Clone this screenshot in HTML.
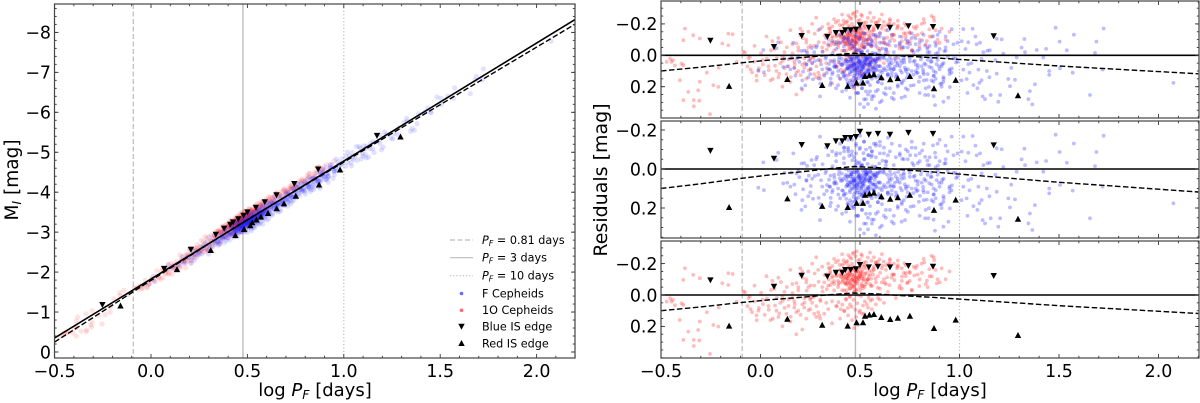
<!DOCTYPE html>
<html>
<head>
<meta charset="utf-8">
<style>
html,body{margin:0;padding:0;background:#fff;}
svg{display:block;}
text{font-family:"DejaVu Sans","Liberation Sans",sans-serif;fill:#000;}
</style>
</head>
<body>
<svg id="fig" xmlns="http://www.w3.org/2000/svg" width="1200" height="403" viewBox="0 0 1200 403">
  <defs>
    <clipPath id="clip-left"><rect x="54.5" y="4" width="520.5" height="354"/></clipPath>
    <clipPath id="clip-r0"><rect x="661" y="1" width="538" height="117"/></clipPath>
    <clipPath id="clip-r1"><rect x="661" y="121" width="538" height="117"/></clipPath>
    <clipPath id="clip-r2"><rect x="661" y="241" width="538" height="117"/></clipPath>
  </defs>
  <g id="layer"></g>

  <text transform="translate(18,180) rotate(-90)" text-anchor="middle" font-size="18.5">M<tspan dy="3" font-size="12.5" font-style="italic">I</tspan><tspan dy="-3"> [mag]</tspan></text>
  <text x="315" y="396" text-anchor="middle" font-size="18">log <tspan font-style="italic">P</tspan><tspan dy="3" font-size="12.5" font-style="italic">F</tspan><tspan dy="-3"> [days]</tspan></text>
  <text transform="translate(607,180) rotate(-90)" text-anchor="middle" font-size="19">Residuals [mag]</text>
  <text x="930" y="396" text-anchor="middle" font-size="18">log <tspan font-style="italic">P</tspan><tspan dy="3" font-size="12.5" font-style="italic">F</tspan><tspan dy="-3"> [days]</tspan></text>

  <g font-size="11.2">
    <line x1="450" x2="473" y1="240" y2="240" stroke="#bbb" stroke-width="1.2" stroke-dasharray="5,2.5"/>
    <text x="482" y="244"><tspan font-style="italic">P</tspan><tspan dy="2" font-size="8" font-style="italic">F</tspan><tspan dy="-2"> = 0.81 days</tspan></text>
    <line x1="450" x2="473" y1="257.7" y2="257.7" stroke="#bbb" stroke-width="1.2"/>
    <text x="482" y="261.7"><tspan font-style="italic">P</tspan><tspan dy="2" font-size="8" font-style="italic">F</tspan><tspan dy="-2"> = 3 days</tspan></text>
    <line x1="450" x2="473" y1="275.7" y2="275.7" stroke="#bbb" stroke-width="1.2" stroke-dasharray="1.2,2"/>
    <text x="482" y="279.7"><tspan font-style="italic">P</tspan><tspan dy="2" font-size="8" font-style="italic">F</tspan><tspan dy="-2"> = 10 days</tspan></text>
    <circle cx="461.5" cy="293.5" r="1.8" fill="#6a6aff"/>
    <text x="482" y="297.5">F Cepheids</text>
    <circle cx="461.5" cy="310.3" r="1.8" fill="#ff6a6a"/>
    <text x="482" y="314.2">1O Cepheids</text>
    <polygon points="458.3,323.8 464.7,323.8 461.5,329.8" fill="#000"/>
    <text x="482" y="330.7">Blue IS edge</text>
    <polygon points="458.3,346 464.7,346 461.5,340" fill="#000"/>
    <text x="482" y="347.3">Red IS edge</text>
  </g>
</svg>

<script>
// ---- chart data ----
const solidFitLogP = [-0.5, 2.2];
const solidFitMag = [-0.35, -8.325];
const curveLogP = [-0.5, -0.3, -0.09, 0.05, 0.2, 0.35, 0.47, 0.6, 0.7, 0.85, 1.0, 1.25, 1.5, 1.85, 2.2];
const curveRes = [0.1, 0.076, 0.047, 0.03, 0.015, -0.002, -0.013, -0.006, 0.003, 0.014, 0.026, 0.047, 0.068, 0.093, 0.118];

const blueLogP = [-0.252, 0.068, 0.207, 0.336, 0.379, 0.411, 0.426, 0.453, 0.48, 0.5, 0.544, 0.59, 0.651, 0.743, 0.867, 1.172];
const blueRes = [-0.093, -0.053, -0.123, -0.117, -0.142, -0.142, -0.159, -0.159, -0.164, -0.191, -0.176, -0.18, -0.176, -0.185, -0.18, -0.121];
const redLogP = [-0.158, 0.135, 0.31, 0.438, 0.483, 0.515, 0.525, 0.547, 0.57, 0.607, 0.652, 0.69, 0.751, 0.872, 0.981, 1.294];
const redRes = [0.195, 0.151, 0.189, 0.195, 0.174, 0.174, 0.132, 0.125, 0.121, 0.14, 0.153, 0.145, 0.132, 0.21, 0.157, 0.255];

const fLogP = [
1.483,1.724,1.575,1.688,1.503,1.326,1.212,1.187,1.066,1.019,0.961,1.103,1.086,1.011,1.044,1.153,1.14,1.388,1.435,1.329,
1.312,1.539,1.681,1.421,1.287,1.111,2.075,1.656,1.719,1.569,1.505,1.451,1.451,1.379,1.346,1.366,1.354,1.254,1.279,1.245,
1.204,1.195,1.157,1.128,1.116,1.1,1.111,1.095,1.137,1.187,1.044,1.019,1.036,0.952,0.944,0.919,0.877,0.843,0.827,0.726,
0.709,0.919,0.869,0.818,0.885,0.014,-0.011,0.017,0.089,0.081,0.165,0.206,0.299,0.231,0.181,0.114,0.257,0.299,0.12,0.15,
0.50,0.52,0.48,0.55,0.46,0.53,0.49,0.57,0.44,0.51,0.54,0.47,0.59,0.43,0.56,0.50,0.52,0.48,0.60,0.45,
0.41,0.62,0.39,0.64,0.37,0.66,0.35,0.68,0.33,0.70,0.42,0.58,0.44,0.61,0.46,0.63,0.40,0.65,0.38,0.67,
0.49,0.51,0.47,0.53,0.50,0.48,0.52,0.46,0.54,0.45,0.55,0.49,0.51,0.47,0.53,0.43,0.57,0.42,0.58,0.50,
0.72,0.74,0.76,0.78,0.80,0.82,0.84,0.86,0.88,0.90,0.92,0.94,0.96,0.98,0.71,0.73,0.75,0.77,0.79,0.81,
0.83,0.85,0.87,0.89,0.91,0.93,0.95,0.97,0.99,0.70,0.72,0.74,0.76,0.78,0.80,0.82,0.84,0.86,0.88,0.90,
0.31,0.29,0.27,0.25,0.23,0.21,0.19,0.17,0.34,0.32,0.30,0.28,0.26,0.24,0.22,0.36,0.38,0.35,0.33,0.37,
0.55,0.57,0.59,0.61,0.63,0.65,0.67,0.69,0.56,0.58,0.60,0.62,0.64,0.66,0.68,0.71,0.54,0.52,0.50,0.48,
0.49,0.51,0.53,0.47,0.45,0.55,0.43,0.57,0.41,0.59,0.50,0.52,0.48,0.46,0.54,0.56,0.44,0.58,0.42,0.60,
0.50,0.52,0.54,0.48,0.46,0.56,0.58,0.44,0.51,0.49,0.53,0.47,0.55,0.45,0.57,0.50,0.52,0.48,0.54,0.46,
0.62,0.64,0.66,0.68,0.60,0.58,0.70,0.72,0.74,0.63,0.65,0.67,0.61,0.59,0.69,0.73,0.75,0.77,0.79,0.71,
1.03,1.06,1.08,1.12,1.15,1.18,1.22,1.26,1.05,1.09,0.97,0.99,1.01,1.04,1.07,0.93,0.95,0.91,0.89,0.87,
0.40,0.42,0.44,0.46,0.48,0.50,0.52,0.54,0.56,0.58,0.60,0.36,0.38,0.62,0.64,0.47,0.49,0.51,0.53,0.55,
0.512,0.487,0.531,0.468,0.549,0.503,0.476,0.521,0.458,0.538,0.495,0.566,0.449,0.514,0.483,0.542,0.471,0.527,0.506,0.462,
0.574,0.437,0.588,0.426,0.602,0.415,0.617,0.404,0.631,0.393,0.646,0.382,0.659,0.371,0.674,0.363,0.688,0.352,0.703,0.344,
0.497,0.523,0.478,0.544,0.461,0.562,0.446,0.581,0.431,0.597,0.418,0.613,0.509,0.491,0.535,0.473,0.553,0.456,0.571,0.441,
0.722,0.741,0.763,0.784,0.806,0.827,0.848,0.871,0.892,0.913,0.734,0.752,0.775,0.796,0.817,0.838,0.859,0.881,0.903,0.924,
0.744,0.768,0.791,0.812,0.835,0.856,0.877,0.897,0.919,0.941,0.962,0.983,0.712,0.731,0.755,0.779,0.801,0.823,0.846,0.867,
0.292,0.312,0.333,0.354,0.273,0.253,0.234,0.214,0.195,0.176,0.155,0.134,0.304,0.326,0.346,0.284,0.264,0.243,0.225,0.206,
0.519,0.542,0.493,0.471,0.511,0.533,0.484,0.502,0.462,0.552,0.451,0.561,0.443,0.573,0.432,0.584,0.524,0.491,0.513,0.504,
0.528,0.546,0.565,0.583,0.601,0.621,0.639,0.656,0.675,0.692,0.509,0.487,0.468,0.449,0.428,0.409,0.391,0.372,0.353,0.334,
0.538,0.557,0.576,0.594,0.613,0.632,0.651,0.669,0.687,0.706,0.725,0.517,0.498,0.479,0.458,0.438,0.419,0.399,0.381,0.362,
0.51,0.53,0.55,0.57,0.59,0.61,0.49,0.47,0.45,0.43,0.63,0.65,0.67,0.41,0.39,0.52,0.54,0.56,0.58,0.60,
0.56,0.58,0.60,0.62,0.64,0.66,0.52,0.50,0.48,0.46,0.44,0.42,0.40,0.68,0.70,0.72,0.74,0.76,0.78,0.80,
0.77,0.79,0.81,0.83,0.85,0.87,0.89,0.91,0.93,0.95,0.75,0.73,0.71,0.69,0.82,0.84,0.86,0.88,0.90,0.92,
0.505,0.525,0.485,0.465,0.545,0.445,0.565,0.515,0.495,0.475,0.535,0.455,0.555,0.435,0.575,0.508,0.488,0.528,0.468,0.548,
0.516,0.536,0.496,0.476,0.556,0.456,0.576,0.436,0.596,0.416,0.616,0.396,0.636,0.376,0.656,0.506,0.486,0.526,0.466,0.546
];
const fRes = [
-0.176,-0.171,-0.131,-0.087,-0.087,-0.104,-0.101,-0.106,-0.169,-0.166,-0.166,-0.08,-0.07,-0.089,-0.083,-0.032,-0.029,-0.034,-0.041,-0.02,
-0.049,-0.032,-0.015,0.014,0.014,0.023,0.176,0.253,0.091,0.111,0.082,0.1,0.125,0.185,0.279,0.313,0.228,0.197,0.156,0.151,
0.253,0.296,0.253,0.279,0.262,0.176,0.159,0.091,0.1,0.117,0.057,0.091,0.151,0.202,0.27,0.296,0.317,0.253,0.253,0.262,
0.27,0.168,0.168,0.108,0.057,-0.034,0.096,0.108,-0.083,-0.046,-0.08,0.21,0.262,0.057,0.023,0.074,-0.046,-0.166,0.02,0.09,
0.05,0.08,0.02,0.06,0.07,0.01,0.11,0.03,0.04,-0.02,0.12,0.13,0.07,0.00,0.15,0.09,-0.05,-0.08,0.10,0.16,
0.06,0.02,0.10,0.12,0.03,0.05,0.09,0.14,0.01,0.07,-0.03,-0.06,0.18,0.18,0.20,-0.04,0.15,0.09,-0.04,-0.02,
0.04,0.06,0.08,0.03,0.07,0.10,0.02,0.05,0.09,0.12,0.04,-0.03,0.14,-0.06,-0.10,0.09,0.11,0.13,0.02,0.18,
0.03,-0.05,0.10,0.06,-0.08,0.12,-0.02,0.08,0.15,-0.04,0.05,-0.09,0.11,0.02,0.17,-0.10,0.14,0.19,-0.03,0.07,
0.21,-0.06,0.13,0.01,0.18,-0.12,0.09,-0.07,0.04,-0.12,0.16,0.22,-0.14,0.10,0.24,-0.13,0.03,0.16,-0.01,-0.15,
0.09,0.03,-0.02,0.12,0.06,0.16,0.01,0.08,-0.07,0.13,0.18,-0.05,0.05,0.14,-0.03,-0.09,0.21,0.19,-0.11,0.07,
-0.11,-0.13,0.17,0.15,0.21,-0.09,0.24,0.19,0.26,0.23,-0.14,0.24,-0.16,0.27,0.12,0.18,0.25,0.28,0.31,0.24,
0.00,-0.02,0.05,0.06,0.08,0.07,0.03,0.11,0.11,0.02,0.12,0.14,0.16,0.17,0.17,-0.07,-0.11,-0.13,-0.09,0.01,
0.03,0.04,0.06,0.05,0.02,0.02,0.04,0.07,0.09,0.08,0.10,0.06,0.01,0.03,0.08,0.13,0.12,0.15,0.14,0.10,
0.00,0.07,0.11,0.04,0.14,0.09,-0.07,0.02,0.12,-0.02,0.06,0.09,0.11,0.17,0.20,0.21,0.04,-0.02,0.11,0.05,
-0.04,0.05,-0.12,-0.02,0.14,0.03,-0.01,0.08,0.11,0.21,0.02,-0.08,0.16,0.24,0.19,-0.05,0.10,0.20,-0.13,0.26,
-0.13,-0.11,-0.15,-0.09,-0.13,-0.11,-0.14,-0.07,-0.09,-0.01,-0.12,0.12,-0.07,-0.08,0.13,0.19,0.24,0.21,0.28,0.23,
0.034,0.071,0.018,0.052,0.091,-0.012,0.118,0.062,0.027,0.103,0.043,0.081,0.066,0.128,0.007,0.021,0.086,0.047,0.098,0.011,
0.056,0.083,0.024,0.039,0.071,0.112,0.013,0.061,0.094,0.028,0.047,0.075,0.131,0.044,0.022,0.108,0.063,0.034,0.097,0.055,
-0.034,-0.051,-0.021,-0.072,-0.044,-0.015,-0.067,0.142,0.153,-0.028,0.136,-0.043,0.161,0.147,0.172,0.166,0.139,0.187,0.118,-0.088,
0.046,0.089,-0.031,0.114,0.027,-0.062,0.073,0.131,-0.018,0.056,0.143,-0.071,0.035,0.168,0.092,-0.043,0.018,0.109,0.182,-0.027,
0.006,0.124,0.063,-0.095,0.157,0.041,-0.083,0.071,0.139,0.012,0.084,0.046,-0.052,0.101,0.193,-0.108,0.138,0.052,0.201,-0.121,
0.148,-0.024,0.112,0.173,0.036,0.087,-0.016,0.104,0.042,0.129,0.018,0.071,0.058,0.021,0.091,-0.062,0.153,0.034,0.192,-0.028,
0.052,0.098,0.037,0.016,0.077,0.031,0.084,0.049,0.101,0.014,0.038,0.073,0.009,0.029,0.056,0.094,0.113,0.019,0.008,0.068,
0.024,0.061,0.102,0.036,0.018,0.082,0.121,0.029,0.071,0.015,0.133,0.096,0.144,0.109,0.126,0.023,0.131,0.076,0.148,0.082,
-0.026,-0.062,-0.011,0.128,0.151,-0.037,0.012,0.089,0.134,0.033,0.079,-0.081,-0.102,-0.041,-0.073,0.175,-0.056,0.048,-0.082,-0.014,
0.21,0.23,0.19,0.26,0.22,0.29,0.24,0.20,0.27,0.22,0.25,0.21,0.28,0.23,0.19,0.33,0.31,0.28,0.34,0.30,
-0.09,-0.12,-0.08,-0.11,-0.07,-0.13,-0.14,-0.17,-0.12,-0.15,-0.10,-0.11,-0.08,-0.06,-0.08,-0.05,-0.09,-0.11,-0.07,-0.04,
0.04,0.08,0.01,0.06,-0.02,0.10,0.03,0.07,-0.03,0.12,0.02,0.09,0.11,0.05,0.16,0.12,0.04,-0.06,0.09,0.15,
0.045,0.062,0.078,0.041,0.055,0.088,0.033,0.072,0.059,0.092,0.026,0.067,0.048,0.081,0.039,0.106,0.012,0.118,0.064,0.044,
0.085,0.017,0.033,0.059,0.047,0.026,0.079,0.038,0.068,0.051,0.094,0.012,0.029,0.064,0.083,-0.018,0.122,0.002,-0.007,0.107
];

const oLogP = [
-0.38,-0.338,-0.305,-0.388,-0.162,-0.14,-0.192,-0.162,-0.087,-0.455,-0.472,-0.447,-0.397,-0.388,-0.405,-0.305,-0.313,-0.363,-0.388,-0.335,
-0.308,-0.335,-0.254,-0.212,-0.237,-0.12,-0.44,-0.43,-0.27,-0.21,-0.05,-0.03,-0.02,0.01,0.03,0.04,0.05,0.06,-0.01,-0.06,
0.08,0.09,0.10,0.11,0.12,0.13,0.14,0.15,0.16,0.17,0.18,0.19,0.20,0.21,0.22,0.23,0.24,0.25,0.26,0.27,
0.07,0.09,0.11,0.13,0.15,0.17,0.19,0.21,0.23,0.25,0.27,0.29,0.31,0.33,0.35,0.28,0.30,0.32,0.34,0.36,
0.46,0.47,0.48,0.45,0.49,0.44,0.50,0.43,0.51,0.46,0.47,0.48,0.45,0.49,0.44,0.50,0.42,0.52,0.41,0.53,
0.46,0.47,0.48,0.45,0.49,0.44,0.50,0.43,0.51,0.46,0.47,0.48,0.45,0.49,0.44,0.50,0.42,0.52,0.41,0.53,
0.39,0.40,0.38,0.37,0.36,0.41,0.42,0.43,0.35,0.34,0.54,0.55,0.56,0.57,0.58,0.59,0.60,0.61,0.62,0.63,
0.37,0.39,0.41,0.43,0.45,0.47,0.49,0.51,0.53,0.55,0.57,0.59,0.61,0.63,0.65,0.67,0.69,0.71,0.73,0.75,
0.64,0.66,0.68,0.70,0.72,0.74,0.76,0.78,0.80,0.82,0.84,0.86,0.88,0.90,0.93,0.95,0.65,0.67,0.69,0.71,
0.73,0.75,0.77,0.79,0.81,0.83,0.85,0.87,0.89,0.91,0.60,0.62,0.58,0.56,0.54,0.52,0.50,0.48,0.46,0.44,
0.42,0.40,0.38,0.36,0.34,0.32,0.30,0.28,0.26,0.24,0.22,0.20,0.18,0.16,0.47,0.45,0.49,0.43,0.51,0.46,
0.44,0.46,0.48,0.50,0.42,0.52,0.40,0.54,0.38,0.56,0.36,0.58,0.47,0.45,0.49,0.43,0.51,0.41,0.53,0.39,
0.55,0.37,0.57,0.35,0.59,0.33,0.61,0.31,0.63,0.29,0.65,0.27,0.67,0.25,0.69,0.23,0.71,0.21,0.73,0.19,
0.471,0.452,0.488,0.436,0.503,0.462,0.479,0.447,0.494,0.429,0.516,0.457,0.483,0.441,0.508,0.468,0.425,0.521,0.474,0.451,
0.413,0.532,0.402,0.544,0.391,0.556,0.382,0.567,0.371,0.578,0.362,0.589,0.351,0.601,0.342,0.612,0.333,0.624,0.322,0.636,
0.648,0.661,0.673,0.686,0.698,0.711,0.723,0.736,0.748,0.761,0.773,0.786,0.798,0.811,0.823,0.836,0.848,0.861,0.873,0.886,
0.312,0.301,0.292,0.281,0.272,0.261,0.252,0.241,0.232,0.221,0.212,0.201,0.192,0.181,0.172,0.161,0.152,0.141,0.132,0.121,
0.112,0.103,0.094,0.082,0.073,0.062,0.053,0.041,0.032,0.021,0.012,0.003,-0.008,-0.019,-0.031,-0.042,-0.054,-0.066,-0.078,0.296,
0.448,0.467,0.486,0.505,0.429,0.524,0.411,0.543,0.392,0.562,0.458,0.477,0.496,0.439,0.515,0.421,0.534,0.403,0.553,0.384,
0.436,0.457,0.478,0.499,0.518,0.539,0.558,0.579,0.598,0.619,0.641,0.417,0.398,0.379,0.361,0.343,0.463,0.484,0.441,0.506,
0.465,0.476,0.455,0.486,0.445,0.496,0.435,0.506,0.425,0.516,0.415,0.526,0.405,0.536,0.395,0.546,0.385,0.556,0.375,0.566,
0.467,0.449,0.484,0.433,0.501,0.419,0.514,0.471,0.456,0.491,0.443,0.509,0.427,0.523,0.479,0.462,0.497,0.438,0.512,0.474
];
const oRes = [
-0.17,-0.128,-0.107,-0.096,-0.138,-0.134,-0.075,-0.064,-0.022,0.021,0.042,0.042,0.053,0.063,0.159,0.169,0.223,0.233,0.286,0.286,
0.29,0.325,0.375,0.201,0.191,0.042,0.03,0.065,0.11,0.08,0.09,-0.06,0.13,0.03,-0.12,0.07,0.16,-0.09,0.10,0.02,
0.10,0.14,0.05,0.20,-0.02,0.12,0.07,0.17,-0.07,0.04,0.25,0.10,-0.13,0.06,0.02,0.15,-0.05,0.09,-0.20,0.12,
-0.04,-0.11,0.01,0.16,-0.16,0.08,-0.03,0.22,-0.10,0.02,-0.06,0.11,-0.18,0.05,-0.14,-0.24,0.15,-0.08,-0.20,0.18,
-0.10,-0.12,-0.08,-0.14,-0.11,-0.09,-0.13,-0.07,-0.06,-0.16,-0.05,-0.15,-0.04,-0.17,-0.11,-0.03,-0.12,-0.10,-0.08,-0.07,
-0.06,-0.09,-0.11,-0.07,-0.15,-0.13,-0.18,-0.10,-0.12,-0.20,-0.02,-0.03,0.01,0.00,-0.19,-0.05,-0.16,-0.18,-0.03,-0.14,
-0.09,-0.12,-0.14,-0.07,-0.11,-0.19,-0.03,-0.01,-0.15,-0.06,-0.10,-0.13,-0.06,-0.16,-0.08,-0.12,-0.04,-0.17,-0.10,-0.07,
-0.23,-0.22,-0.26,-0.21,-0.24,-0.27,-0.22,-0.25,-0.21,-0.27,-0.24,-0.21,-0.26,-0.19,-0.23,-0.20,-0.22,-0.17,-0.19,-0.14,
-0.02,-0.11,0.02,-0.06,-0.14,-0.08,-0.03,-0.17,-0.10,-0.23,-0.05,-0.25,-0.16,-0.08,-0.10,-0.15,-0.22,-0.13,-0.19,-0.04,
-0.12,-0.09,-0.18,-0.13,-0.20,-0.07,-0.12,-0.24,-0.10,-0.17,0.03,0.05,0.06,0.09,0.08,0.12,0.10,0.14,0.16,0.13,
0.10,0.15,0.07,0.04,0.09,0.12,0.03,0.14,0.05,-0.15,0.08,-0.17,0.11,0.02,0.21,0.06,0.19,0.03,0.12,-0.13,
-0.14,-0.17,-0.15,-0.12,-0.20,-0.19,-0.16,-0.10,-0.12,-0.15,-0.08,-0.21,-0.16,-0.18,-0.09,-0.11,-0.14,-0.13,-0.17,-0.05,
-0.07,-0.03,-0.18,-0.17,0.02,-0.13,-0.08,-0.05,-0.16,-0.16,-0.20,0.01,-0.13,0.03,-0.18,-0.08,-0.09,-0.15,-0.14,-0.05,
-0.092,-0.124,-0.071,-0.105,-0.138,-0.048,-0.153,-0.082,-0.113,-0.131,-0.094,-0.168,-0.036,-0.059,-0.072,-0.181,-0.077,-0.119,-0.024,-0.143,
-0.101,-0.083,-0.134,-0.121,-0.067,-0.057,-0.149,-0.166,-0.088,-0.104,-0.121,-0.046,-0.063,-0.142,-0.098,-0.187,-0.036,-0.078,-0.127,-0.112,
-0.063,-0.131,-0.094,-0.171,-0.044,-0.117,-0.203,-0.076,-0.148,-0.032,-0.124,-0.186,-0.057,-0.141,-0.208,-0.091,-0.165,-0.118,-0.221,-0.074,
-0.022,0.038,-0.084,0.071,-0.137,0.014,-0.061,0.097,-0.028,0.049,-0.109,0.126,0.008,-0.076,0.058,-0.012,0.139,0.027,-0.051,0.082,
0.036,-0.083,0.118,0.019,0.067,0.151,-0.032,0.094,0.022,0.126,0.058,-0.014,0.083,0.161,0.041,0.109,0.008,0.071,-0.018,0.131,
0.012,0.031,0.053,0.008,0.024,0.041,0.062,0.017,0.046,0.028,0.076,0.094,0.111,0.083,0.067,0.104,0.059,0.091,0.036,0.072,
-0.215,-0.232,-0.248,-0.224,-0.207,-0.239,-0.218,-0.204,-0.227,-0.213,-0.198,-0.221,-0.193,-0.209,-0.184,-0.172,-0.263,-0.278,-0.254,-0.259,
-0.112,-0.086,-0.097,-0.128,-0.121,-0.101,-0.079,-0.147,-0.156,-0.058,-0.091,-0.136,-0.113,-0.097,-0.078,-0.154,-0.127,-0.103,-0.146,-0.129,
-0.058,-0.042,-0.098,-0.031,-0.122,-0.115,-0.041,-0.133,-0.074,-0.149,-0.162,-0.106,-0.071,-0.052,-0.111,-0.096,-0.173,-0.124,-0.161,-0.069
];

const xTickValues = [-0.5, 0, 0.5, 1, 1.5, 2];
const xTickLabels = ["\u22120.5", "0.0", "0.5", "1.0", "1.5", "2.0"];
const leftYTickValues = [-8, -7, -6, -5, -4, -3, -2, -1, 0];
const leftYTickLabels = ["\u22128", "\u22127", "\u22126", "\u22125", "\u22124", "\u22123", "\u22122", "\u22121", "0"];
const resTickValues = [-0.2, 0, 0.2];
const resTickLabels = ["\u22120.2", "0.0", "0.2"];
const refLogP = [-0.092, 0.477, 1.0];

// ---- axis functions ----
const xLeft = v => 151 + (v * 192.8);
const yLeft = v => 352 + (v * 39.95);
const xRight = v => 760.5 + (v * 199);
const yRes0 = v => 55.3 + (v * 157);
const yRes1 = v => 169 + (v * 195);
const yRes2 = v => 295 + (v * 157);

const SVGNS = "http://www.w3.org/2000/svg";
const layer = document.getElementById("layer");

function svg(tag, attrs, parent) {
  const e = document.createElementNS(SVGNS, tag);
  for (const k in attrs) e.setAttribute(k, attrs[k]);
  parent.appendChild(e);
  return e;
}
function fitMag(x) {
  const t = (x - solidFitLogP[0]) / (solidFitLogP[1] - solidFitLogP[0]);
  return solidFitMag[0] + t * (solidFitMag[1] - solidFitMag[0]);
}
function curveAt(x) {
  for (let i = 0; i < curveLogP.length - 1; i++) {
    if (x <= curveLogP[i + 1]) {
      const t = (x - curveLogP[i]) / (curveLogP[i + 1] - curveLogP[i]);
      return curveRes[i] + t * (curveRes[i + 1] - curveRes[i]);
    }
  }
  return curveRes[curveRes.length - 1];
}
function drawPoints(g, xs, rs, sx, sy, r, color, op, name) {
  const n = Math.min(xs.length, rs.length);
  for (let i = 0; i < n; i++) {
    const c = svg("circle", {cx: sx(xs[i]).toFixed(1), cy: sy(xs[i], rs[i]).toFixed(1), r: r, fill: color, "fill-opacity": op}, g);
    
    
  }
}
function drawEdges(g, xs, rs, sx, sy, down, name) {
  const n = Math.min(xs.length, rs.length);
  for (let i = 0; i < n; i++) {
    const px = sx(xs[i]), py = sy(xs[i], rs[i]);
    const pts = down
      ? [[px - 3.2, py - 3], [px + 3.2, py - 3], [px, py + 3]]
      : [[px - 3.2, py + 3], [px + 3.2, py + 3], [px, py - 3]];
    const p = svg("polygon", {points: pts.map(q => q[0].toFixed(1) + "," + q[1].toFixed(1)).join(" "), fill: "#000"}, g);
    
    
  }
}
function drawRefs(g, sx, top, bottom) {
  const dashes = ["5,2.5", "", "1.2,2.2"];
  refLogP.forEach((v, i) => {
    const l = svg("line", {x1: sx(v), x2: sx(v), y1: top, y2: bottom, stroke: "#bbb", "stroke-width": i === 1 ? 1.4 : 1.2}, g);
    if (dashes[i]) l.setAttribute("stroke-dasharray", dashes[i]);
    
    
  });
}
function drawFrame(left, top, right, bottom, sx, sy, xMajor, xLabels, yMajor, yLabels, xMinorStep, yMinorVals, showXLabels, name) {
  const g = svg("g", {}, layer);
  
  
  const tick = (x1, y1, x2, y2, w) => {
    const t = svg("line", {x1: x1, y1: y1, x2: x2, y2: y2, stroke: "#333", "stroke-width": w}, g);
    
    
  };
  for (let k = -5; k <= 22; k++) {
    const v = k / 10;
    const px = sx(v);
    const major = k % 5 === 0;
    const len = major ? 4 : 2.2;
    tick(px, bottom, px, bottom - len, 0.9);
    tick(px, top, px, top + len, 0.9);
  }
  yMinorVals.forEach(v => {
    const py = sy(v);
    if (py < top || py > bottom) return;
    tick(left, py, left + 2.2, py, 0.9);
    tick(right, py, right - 2.2, py, 0.9);
  });
  yMajor.forEach((v, i) => {
    const py = sy(v);
    tick(left, py, left + 4, py, 0.9);
    tick(right, py, right - 4, py, 0.9);
    const t = svg("text", {x: left - 3.5, y: py + 6.3, "text-anchor": "end", "font-size": 17.4}, g);
    t.textContent = yLabels[i];
    
    
  });
  if (showXLabels) {
    xMajor.forEach((v, i) => {
      const t = svg("text", {x: sx(v), y: bottom + 19, "text-anchor": "middle", "font-size": 17.4}, g);
      t.textContent = xLabels[i];
      
      
    });
  }
  const r = svg("rect", {x: left, y: top, width: right - left, height: bottom - top, fill: "none", stroke: "#444", "stroke-width": 1.2}, g);
  
  
}
function pathFrom(xs, fn) {
  return xs.map((x, i) => (i ? "L" : "M") + fn(x).map(v => v.toFixed(1)).join(",")).join(" ");
}

// ---- left panel ----
(function () {
  const g = svg("g", {"clip-path": "url(#clip-left)"}, layer);
  
  
  drawRefs(g, xLeft, 4, 358);
  const sy = (x, r) => yLeft(fitMag(x) + r);
  drawPoints(g, oLogP, oRes, xLeft, sy, 2.6, "#ff2020", 0.13, "first-overtone-cepheid-point");
  drawPoints(g, fLogP, fRes, xLeft, sy, 2.6, "#2020ff", 0.13, "fundamental-cepheid-point");
  const solid = svg("path", {d: pathFrom(solidFitLogP, x => [xLeft(x), yLeft(fitMag(x))]), fill: "none", stroke: "#000", "stroke-width": 1.6}, g);
  
  
  const dash = svg("path", {d: pathFrom(curveLogP, x => [xLeft(x), yLeft(fitMag(x) + curveAt(x))]), fill: "none", stroke: "#000", "stroke-width": 1.4, "stroke-dasharray": "5.5,2.5"}, g);
  
  
  drawEdges(g, blueLogP, blueRes, xLeft, sy, true, "blue-edge-marker");
  drawEdges(g, redLogP, redRes, xLeft, sy, false, "red-edge-marker");
  const minor = [];
  for (let k = 0; k <= 44; k++) minor.push(-8.8 + k * 0.2);
  drawFrame(54.5, 4, 575, 358, xLeft, yLeft, xTickValues, xTickLabels, leftYTickValues, leftYTickLabels, 0.1, minor, true, "left");
})();

// ---- residual panels ----
function residualPanel(index, top, bottom, sy, showF, showO, showLabels, name) {
  const g = svg("g", {"clip-path": "url(#clip-r" + index + ")"}, layer);
  
  
  drawRefs(g, xRight, top, bottom);
  const syy = (x, r) => sy(r);
  if (showO) drawPoints(g, oLogP, oRes, xRight, syy, 1.9, "#ff2020", 0.3, "first-overtone-cepheid-point");
  if (showF) drawPoints(g, fLogP, fRes, xRight, syy, 1.9, "#2020ff", 0.3, "fundamental-cepheid-point");
  const solid = svg("line", {x1: 661, x2: 1199, y1: sy(0), y2: sy(0), stroke: "#000", "stroke-width": 1.6}, g);
  
  
  const dash = svg("path", {d: pathFrom(curveLogP, x => [xRight(x), sy(curveAt(x))]), fill: "none", stroke: "#000", "stroke-width": 1.4, "stroke-dasharray": "5.5,2.5"}, g);
  
  
  drawEdges(g, blueLogP, blueRes, xRight, syy, true, "blue-edge-marker");
  drawEdges(g, redLogP, redRes, xRight, syy, false, "red-edge-marker");
  const minor = [];
  for (let k = -8; k <= 8; k++) minor.push(k * 0.05);
  drawFrame(661, top, 1199, bottom, xRight, sy, xTickValues, xTickLabels, resTickValues, resTickLabels, 0.1, minor, showLabels, name);
}
residualPanel(0, 1, 118, yRes0, true, true, false, "residuals-all-panel");
residualPanel(1, 121, 238, yRes1, true, false, false, "residuals-f-panel");
residualPanel(2, 241, 358, yRes2, false, true, true, "residuals-1o-panel");
</script>
</body>
</html>
